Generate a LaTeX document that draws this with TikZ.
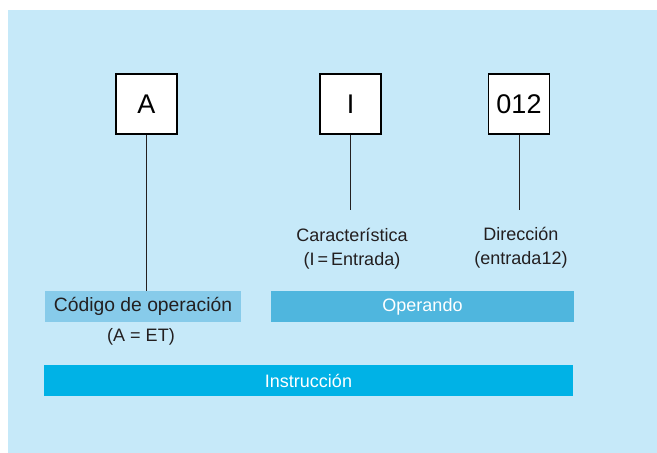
\documentclass[tikz,border=0pt]{standalone}
\usepackage{fontspec}
\setmainfont{Liberation Sans}
\definecolor{bgblue}{HTML}{C6E9F9}
\definecolor{codblue}{HTML}{87CBEA}
\definecolor{opblue}{HTML}{4FB6DE}
\definecolor{insblue}{HTML}{00B2E6}
\definecolor{txt}{HTML}{231F20}
\begin{document}
\begin{tikzpicture}[x=1pt,y=-1pt,
  letterbox/.style={draw=black,line width=1.1pt,fill=white,minimum width=61pt,minimum height=60pt,inner sep=0pt,font=\fontsize{27}{30}\selectfont,text=black},
  bar/.style={minimum height=31pt,inner sep=0pt,font=\fontsize{18}{21}\selectfont},
  lbl/.style={align=center,inner sep=0pt,text=txt,font=\fontsize{18}{24}\selectfont},
  conn/.style={draw=txt,line width=1pt}]
\useasboundingbox (0,0) rectangle (657,453);
\fill[bgblue] (8,10) rectangle (657,453);
\node[letterbox] (A) at (146.5,104) {A};
\node[letterbox] (I) at (350.5,104) {I};
\node[letterbox] (D) at (519,104) {012};
\node[bar,fill=codblue,text=txt,minimum width=196pt,font=\fontsize{19.3}{21}\selectfont] (cod) at (143,306.5) {Código de operación};
\node[bar,fill=opblue,text=white,minimum width=303pt] (op) at (422.5,306.5) {Operando};
\node[bar,fill=insblue,text=white,minimum width=529pt] (ins) at (308.5,380.5) {Instrucción};
\node[lbl] (aet) at (141,337) {(A = ET)};
\node[lbl] (car) at (352,249) {Característica\\(I\,=\,Entrada)};
\node[lbl] (dir) at (521,248) {Dirección\\(entrada12)};
\coordinate (Iend) at (350.5,210);
\coordinate (Dend) at (519,210);
\draw[conn] (A.south) -- (A.south |- cod.north);
\draw[conn] (I.south) -- (I.south |- Iend);
\draw[conn] (D.south) -- (D.south |- Dend);
\end{tikzpicture}
\end{document}
